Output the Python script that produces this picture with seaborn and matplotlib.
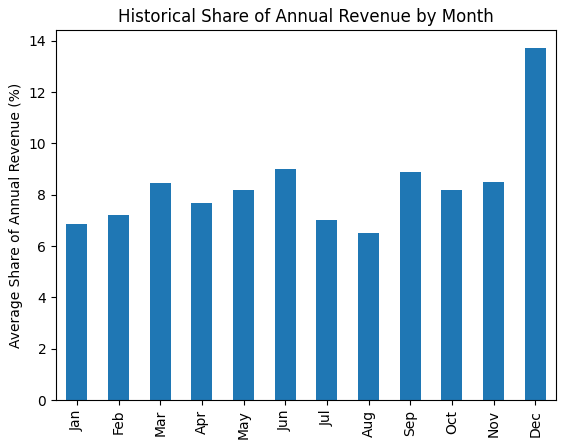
import matplotlib
matplotlib.use("Agg")
import matplotlib.pyplot as plt
import seaborn as sns
import pandas as pd

months = ["Jan","Feb","Mar","Apr","May","Jun","Jul","Aug","Sep","Oct","Nov","Dec"]
share = [6.85, 7.2, 8.44, 7.66, 8.17, 8.99, 7.0, 6.5, 8.87, 8.17, 8.5, 13.73]

df = pd.DataFrame({"month": months, "share": share})
fig, ax = plt.subplots(figsize=(5.63, 4.48), dpi=100)
sns.barplot(data=df, x="month", y="share", color="#1f77b4", saturation=1, width=0.5, ax=ax)
ax.set_title("Historical Share of Annual Revenue by Month")
ax.set_xlabel("")
ax.set_ylabel("Average Share of Annual Revenue (%)")
ax.tick_params(axis="x", rotation=90)
ax.set_xlim(-0.5, 11.5)
fig.subplots_adjust(left=0.0995, right=0.9876, top=0.933, bottom=0.107)
fig.savefig("out.png", dpi=100)
